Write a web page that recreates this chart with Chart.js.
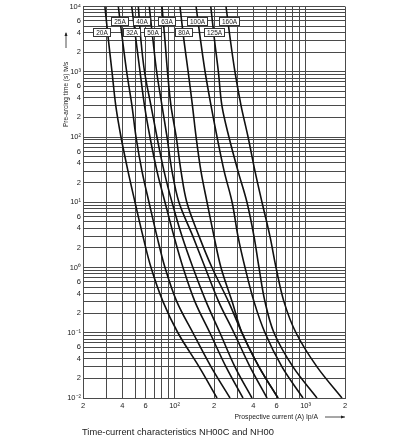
<!DOCTYPE html>
<html><head><meta charset="utf-8">
<script src="https://cdn.jsdelivr.net/npm/chart.js@4.4.1/dist/chart.umd.min.js"></script>
<style>html,body{margin:0;padding:0;background:#fff;}#wrap{width:410px;height:438px;position:relative;}</style>
</head><body>
<div id="wrap"><canvas id="c" width="410" height="438"></canvas></div>
<script>
// ---- data ----
const fuseNames = ['20A','25A','32A','40A','50A','63A','80A','100A','125A','160A'];
const times = [10000, 3000, 1000, 300, 100, 30, 10, 3, 1, 0.3, 0.1, 0.03, 0.01];
const current20A  = [29.4, 31.3, 33.3, 35.6, 39.0, 44.1, 49.9, 57.4, 66.1, 81.6, 106, 154, 211];
const current25A  = [37.2, 40.1, 43.1, 47.3, 50.8, 56.4, 63.8, 73.4, 84.5, 104, 138, 190, 265];
const current32A  = [47.1, 50.8, 54.5, 59.0, 64.9, 73.4, 84.5, 99.0, 116, 143, 186, 247, 333];
const current40A  = [52.9, 55.4, 59.0, 66.1, 73.4, 83.1, 95.6, 114, 138, 174, 222, 289, 390];
const current50A  = [64.1, 68.5, 73.0, 80.2, 87.6, 95.6, 108, 138, 171, 217, 284, 377, 508];
const current63A  = [80.2, 84.5, 88.3, 93.9, 103, 112, 124, 154, 193, 258, 327, 441, 616];
const current80A  = [110, 118, 127, 137, 146, 159, 177, 200, 226, 275, 327, 441, 616];
const current100A = [146, 158, 171, 190, 211, 239, 275, 305, 345, 404, 490, 661, 956];
const current125A = [189, 202, 216, 230, 260, 305, 357, 404, 441, 490, 574, 802, 1223];
const current160A = [247, 267, 289, 322, 364, 411, 465, 535, 595, 684, 845, 1223, 1897];
const currents = [current20A, current25A, current32A, current40A, current50A, current63A, current80A, current100A, current125A, current160A];

// curve tag placement (current, time)
const tagCurrents = [27.8, 38.3, 47.3, 56.1, 67.6, 87.1, 117.6, 149.1, 201, 261.8];
const tagTimes    = [4000, 6000, 4000, 6000, 4000, 6000, 4000, 6000, 4000, 6000];

// tick labels
const xTickValues = [20, 40, 60, 100, 200, 400, 600, 1000, 2000];
const xTickLabels = ['2', '4', '6', '10²', '2', '4', '6', '10³', '2'];
const yTickValues = [0.01,0.02,0.04,0.06,0.1,0.2,0.4,0.6,1,2,4,6,10,20,40,60,100,200,400,600,1000,2000,4000,6000,10000];
const yTickLabels = ['10⁻²','2','4','6','10⁻¹','2','4','6','10⁰','2','4','6','10¹','2','4','6','10²','2','4','6','10³','2','4','6','10⁴'];

const chartTitle = 'Time-current characteristics NH00C and NH00';
const xTitle = 'Prospective current (A) Ip/A';
const yTitle = 'Pre-arcing time (s) tv/s';

// ---- grid values (1..9 per decade) ----
function decadeGrid(lo, hi) {
  const out = [];
  for (let n = -3; n <= 5; n++) for (let k = 1; k <= 9; k++) {
    const v = parseFloat((k * Math.pow(10, n)).toPrecision(6));
    if (v >= lo - 1e-12 && v <= hi + 1e-9) out.push(v);
  }
  return out;
}
const xGrid = decadeGrid(20, 2000);
const yGrid = decadeGrid(0.01, 10000);
function lookup(vals, labels, v) {
  const i = vals.findIndex(a => Math.abs(a - v) / a < 1e-6);
  return i >= 0 ? labels[i] : '';
}

const FONT = '"Liberation Sans", Arial, Helvetica, sans-serif';
const GRID = '#4a4a4a';

const annot = {
  id: 'annot',
  afterDatasetsDraw(chart) {
    const { ctx, scales: { x, y } } = chart;
    ctx.save();
    ctx.font = '6.5px ' + FONT;
    ctx.textAlign = 'center';
    ctx.textBaseline = 'middle';
    fuseNames.forEach((name, i) => {
      const px = x.getPixelForValue(tagCurrents[i]);
      const py = y.getPixelForValue(tagTimes[i]);
      const w = Math.round(ctx.measureText(name).width + 5);
      const h = 8;
      const l = Math.round(px - w / 2), t = Math.round(py - h / 2);
      ctx.fillStyle = '#fff';
      ctx.fillRect(l, t, w, h);
      ctx.strokeStyle = '#333';
      ctx.lineWidth = 1;
      ctx.strokeRect(l + 0.5, t + 0.5, w, h);
      ctx.fillStyle = '#222';
      ctx.fillText(name, l + w / 2 + 0.5, t + h / 2 + 1);
    });
    ctx.restore();
  },
  afterDraw(chart) {
    const { ctx, chartArea: ca } = chart;
    ctx.save();
    ctx.fillStyle = '#222';
    ctx.strokeStyle = '#222';
    // bottom title
    ctx.font = '9.3px ' + FONT;
    ctx.textAlign = 'left';
    ctx.textBaseline = 'middle';
    ctx.fillText(chartTitle, ca.left - 1, 432);
    // x title + arrow
    ctx.font = '6.8px ' + FONT;
    ctx.textAlign = 'right';
    ctx.fillText(xTitle, ca.right - 27, 417);
    ctx.lineWidth = 0.8;
    ctx.beginPath(); ctx.moveTo(ca.right - 20, 417); ctx.lineTo(ca.right, 417); ctx.stroke();
    ctx.beginPath(); ctx.moveTo(ca.right, 417); ctx.lineTo(ca.right - 4, 415.5); ctx.lineTo(ca.right - 4, 418.5); ctx.closePath(); ctx.fill();
    // y title + arrow
    ctx.save();
    ctx.translate(66, 127);
    ctx.rotate(-Math.PI / 2);
    ctx.font = '6.5px ' + FONT;
    ctx.textAlign = 'left';
    ctx.fillText(yTitle, 0, 0);
    ctx.restore();
    ctx.beginPath(); ctx.moveTo(66, 48); ctx.lineTo(66, 33); ctx.stroke();
    ctx.beginPath(); ctx.moveTo(66, 32); ctx.lineTo(64.5, 36); ctx.lineTo(67.5, 36); ctx.closePath(); ctx.fill();
    ctx.restore();
  }
};

new Chart(document.getElementById('c'), {
  type: 'scatter',
  data: {
    datasets: fuseNames.map((n, i) => ({
      label: n,
      data: currents[i].map((c, j) => ({ x: c, y: times[j] })),
      showLine: true,
      borderColor: '#111',
      borderWidth: 1.6,
      pointRadius: 0,
      tension: 0.35,
      fill: false
    }))
  },
  options: {
    responsive: false,
    animation: false,
    devicePixelRatio: 1,
    layout: { padding: { top: 5, right: 65, bottom: 0, left: 0 } },
    plugins: { legend: { display: false }, tooltip: { enabled: false }, title: { display: false } },
    scales: {
      x: {
        type: 'logarithmic', min: 20, max: 2000,
        afterBuildTicks: s => { s.ticks = xGrid.map(v => ({ value: v })); },
        afterFit: s => { s.height = 40; },
        ticks: { autoSkip: false, maxRotation: 0, padding: 3, color: '#222', font: { family: FONT, size: 7.5 },
                 callback: v => lookup(xTickValues, xTickLabels, v) },
        grid: { color: GRID, lineWidth: 1, drawTicks: false },
        border: { color: GRID }
      },
      y: {
        type: 'logarithmic', min: 0.01, max: 10000,
        afterBuildTicks: s => { s.ticks = yGrid.map(v => ({ value: v })); },
        afterFit: s => { s.width = 83; },
        ticks: { autoSkip: false, padding: 2, color: '#222', font: { family: FONT, size: 7.5 },
                 callback: v => lookup(yTickValues, yTickLabels, v) },
        grid: { color: GRID, lineWidth: 1, drawTicks: false },
        border: { color: GRID }
      }
    }
  },
  plugins: [annot]
});
</script>
</body></html>
